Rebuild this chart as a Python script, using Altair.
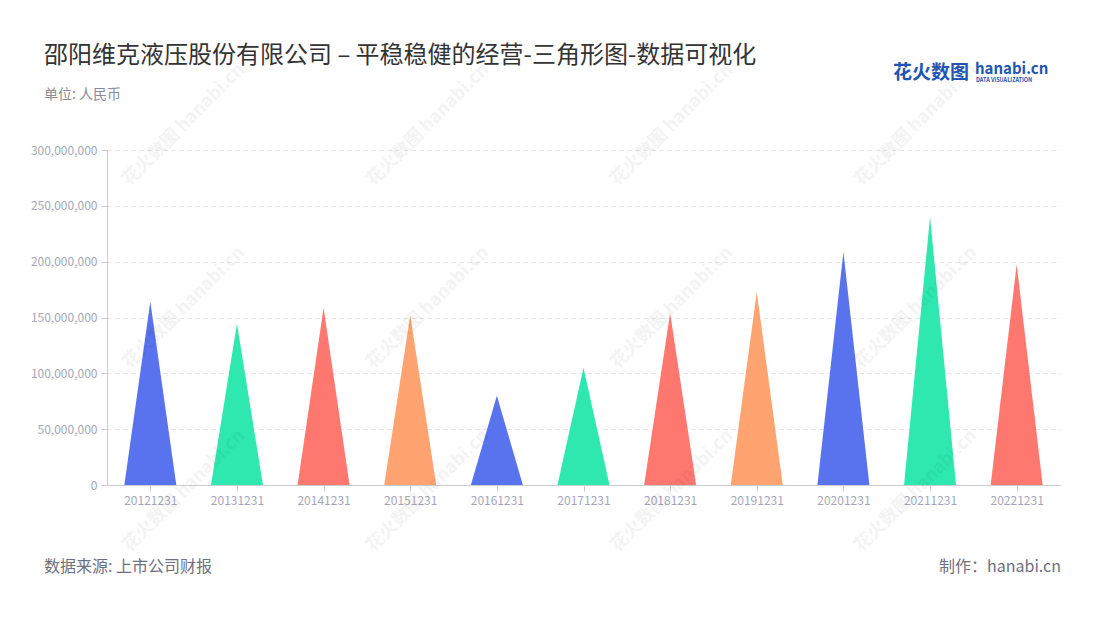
import json
import altair as alt
import pandas as pd

# ---- data ----
categories = ["20121231", "20131231", "20141231", "20151231", "20161231", "20171231",
              "20181231", "20191231", "20201231", "20211231", "20221231"]
values = [164000000, 144500000, 158800000, 152000000, 80000000, 105000000,
          154000000, 172800000, 208700000, 240000000, 197700000]
y_ticks = [0, 50000000, 100000000, 150000000, 200000000, 250000000, 300000000]
palette = ["#5972EE", "#2EE8B0", "#FF7870", "#FFA370"]

title_text = "邵阳维克液压股份有限公司 – 平稳稳健的经营-三角形图-数据可视化"
subtitle_text = "单位: 人民币"
source_text = "数据来源: 上市公司财报"
maker_text = "制作：hanabi.cn"

FONT = "Noto Sans CJK SC"
HALF = 0.3  # half width of each triangle, in category units

# build triangle vertices (left base, apex, right base) from the data
rows = []
for i, (c, v) in enumerate(zip(categories, values)):
    for dx, yy in ((-HALF, 0), (0, v), (HALF, 0)):
        rows.append({"cat": c, "idx": i + dx, "value": yy, "grp": i % 4})
tri = pd.DataFrame(rows)

label_expr = json.dumps(categories) + "[round(datum.value)]"

W, H = 953, 335

area = alt.Chart(tri).mark_area(interpolate="linear", opacity=1).encode(
    x=alt.X("idx:Q",
            scale=alt.Scale(domain=[-0.5, len(categories) - 0.5], nice=False, zero=False),
            axis=alt.Axis(values=list(range(len(categories))), labelExpr=label_expr,
                          title=None, grid=False, domainColor="#CCCCCC", tickColor="#CCCCCC",
                          tickSize=6, labelPadding=4, labelFontSize=12,
                          labelColor="#A5A7B8", labelFont=FONT)),
    y=alt.Y("value:Q", stack=None,
            scale=alt.Scale(domain=[0, 300000000], nice=False),
            axis=alt.Axis(values=y_ticks, labelExpr="format(datum.value, ',')",
                          title=None, grid=True, gridDash=[4, 4], gridColor="#E3E3E3",
                          domainColor="#CCCCCC", tickColor="#CCCCCC", tickSize=6, labelPadding=4,
                          labelFontSize=12, labelColor="#A5A7B8", labelFont=FONT)),
    color=alt.Color("grp:N", scale=alt.Scale(domain=[0, 1, 2, 3], range=palette), legend=None),
    detail="cat:N",
)

# watermark (decoration)
wm_x = [77, 321, 565, 809]
wm_y = [-25, 158, 341]
wm = pd.DataFrame([{"px": x, "py": y} for x in wm_x for y in wm_y])
watermark = alt.Chart(wm).mark_text(
    text="花火数图 hanabi.cn", angle=315, fontSize=18, fontWeight="bold",
    font=FONT, color="#000000", opacity=0.045, align="center", baseline="middle"
).encode(x=alt.X("px:Q", scale=None, axis=None), y=alt.Y("py:Q", scale=None, axis=None))


def txt(text, x, y, size, color, align="left", weight="normal", baseline="middle"):
    return alt.Chart(pd.DataFrame({"t": [text]})).mark_text(
        fontSize=size, color=color, align=align, fontWeight=weight, baseline=baseline, font=FONT
    ).encode(text="t:N", x=alt.value(x), y=alt.value(y))


title = txt(title_text, -63, -94, 24, "#333333")
subtitle = txt(subtitle_text, -63, -55, 14, "#8A8C9C")
source = txt(source_text, -63, 417, 16, "#6E6F80")
maker = txt(maker_text, 954, 417, 16, "#6E6F80", align="right")
logo1 = txt("花火数图", 786, -77, 19, "#2255B0", weight="bold")
logo2 = txt("hanabi.cn", 868, -81, 15, "#2255B0", weight="bold")
logo3 = txt("DATA VISUALIZATION", 869, -70, 5.5, "#2255B0", weight="bold")

chart = alt.layer(
    area, watermark, title, subtitle, source, maker, logo1, logo2, logo3
).properties(
    width=W, height=H,
    padding={"left": 99, "top": 142, "right": 30, "bottom": 120},
    autosize=alt.AutoSizeParams(type="none"),
).configure(background="#FFFFFF").configure_view(stroke=None, strokeWidth=0)

chart.save("out.html", embed_options={"renderer": "svg", "actions": False})
